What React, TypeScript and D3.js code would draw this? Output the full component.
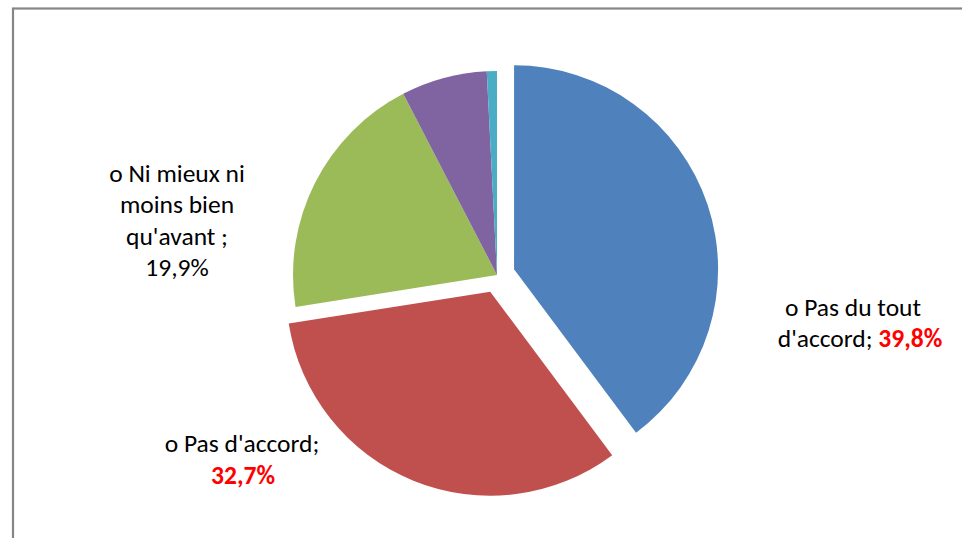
import * as d3 from "d3";

const categories = ["Pas du tout d'accord", "Pas d'accord", "Ni mieux ni moins bien qu'avant", "Plutôt d'accord", "Tout à fait d'accord"];
const values = [39.8, 32.7, 19.9, 6.8, 0.8];
const colors = ["#4F81BD", "#C0504D", "#9BBB59", "#8064A2", "#4BACC6"];
const exploded = [true, true, false, false, false];

const WIDTH = 962;
const HEIGHT = 538;
const CX = 497;
const CY = 275;
const R = 204;
const EXPLODE = 18;
const FONT = "Carlito, Calibri, 'Open Sans', sans-serif";

export default function App() {
  const pie = d3.pie<number>().sort(null).value((d) => d);
  const arcs = pie(values);
  const arc = d3.arc<d3.PieArcDatum<number>>().innerRadius(0).outerRadius(R);

  return (
    <svg
      width={WIDTH}
      height={HEIGHT}
      style={{ position: "absolute", left: 0, top: 0, background: "#fff" }}
    >
      <rect x={13} y={8.5} width={1000} height={600} fill="none" stroke="#868686" strokeWidth={2.2} />
      <g transform={`translate(${CX},${CY})`}>
        {arcs.map((a, i) => {
          const mid = (a.startAngle + a.endAngle) / 2;
          const d = exploded[i] ? EXPLODE : 0;
          const dx = Math.sin(mid) * d;
          const dy = -Math.cos(mid) * d;
          return (
            <path
              key={categories[i]}
              d={arc(a) ?? ""}
              fill={colors[i]}
              transform={`translate(${dx},${dy})`}
            />
          );
        })}
      </g>
      <g fontFamily={FONT} fontSize={25.5} fill="#000" textAnchor="middle">
        <text x={177} y={182}>o Ni mieux ni</text>
        <text x={177} y={213}>moins bien</text>
        <text x={177} y={245}>qu'avant ;</text>
        <text x={177} y={276}>19,9%</text>

        <text x={853} y={316}>o Pas du tout</text>
        <text x={860} y={347}>
          d'accord; <tspan fill="#FF0000" fontWeight="bold">39,8%</tspan>
        </text>

        <text x={242} y={452}>o Pas d'accord;</text>
        <text x={243} y={484} fill="#FF0000" fontWeight="bold">32,7%</text>
      </g>
    </svg>
  );
}
